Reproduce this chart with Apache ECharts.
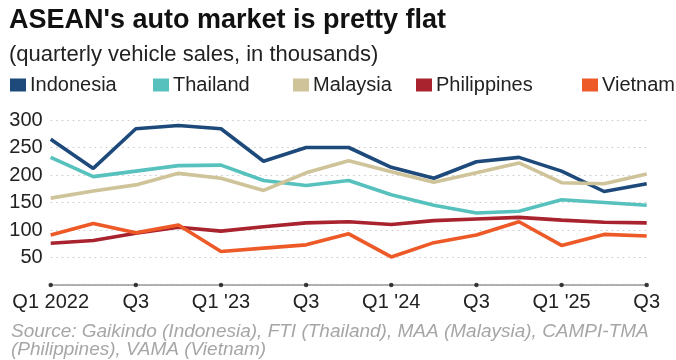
<!DOCTYPE html>
<html><head><meta charset="utf-8">
<script src="https://cdn.jsdelivr.net/npm/echarts@6/dist/echarts.min.js"></script>
<style>html,body{margin:0;padding:0;background:#fff}#c{width:676px;height:360px}</style>
</head><body><div id="c"></div>
<script>
var categories = ['Q1 2022','Q2 2022','Q3 2022','Q4 2022','Q1 2023','Q2 2023','Q3 2023','Q4 2023','Q1 2024','Q2 2024','Q3 2024','Q4 2024','Q1 2025','Q2 2025','Q3 2025'];
var tickLabels = {'Q1 2022':'Q1 2022','Q3 2022':'Q3','Q1 2023':"Q1 '23",'Q3 2023':'Q3','Q1 2024':"Q1 '24",'Q3 2024':'Q3','Q1 2025':"Q1 '25",'Q3 2025':'Q3'};
var indonesia   = [265,212,284,290,284,225,250,250,214,194,224,232,207,170,184];
var thailand    = [232,197,207,217,218,190,181,190,164,145,131,134,155,150,145];
var malaysia    = [158,171,182,203,194,172,204,226,206,187,204,222,186,184,202];
var philippines = [76,81,94,105,98,106,113,115,110,117,120,123,118,114,113];
var vietnam     = [91,112,95,109,61,67,73,93,51,77,91,115,72,92,89];
var names  = ['Indonesia','Thailand','Malaysia','Philippines','Vietnam'];
var colors = ['#1d4a7b','#56c1bd','#cfc399','#a8232e','#ee5a27'];
var values = [indonesia, thailand, malaysia, philippines, vietnam];
var legendLeft = [5,148,288,411,577];

var font = '"Liberation Sans", Arial, Helvetica, sans-serif';
var chart = echarts.init(document.getElementById('c'), null, {renderer:'canvas'});
var series = names.map(function(n,i){
  return {name:n, type:'line', data:values[i], symbol:'none', smooth:false,
    lineStyle:{color:colors[i], width:3.6}, itemStyle:{color:colors[i]}, z:2+i};
});
series.push({type:'scatter', data: categories.map(function(c,i){return i%2===0?[c,0]:null;}).filter(Boolean),
  symbol:'circle', symbolSize:4.5, itemStyle:{color:'#111'}, clip:false, z:10, silent:true});
var legends = names.map(function(n,i){
  return {data:[n], left:legendLeft[i], top:70, icon:'rect', itemWidth:16, itemHeight:13, itemGap:0,
    textStyle:{fontFamily:font, fontSize:20, color:'#222', padding:[0,0,0,-1]}, selectedMode:false};
});
chart.setOption({
  animation:false,
  title:[
    {text:"ASEAN's auto market is pretty flat", left:4, top:2, textStyle:{fontFamily:font, fontWeight:'bold', fontSize:27, color:'#111'}},
    {text:'(quarterly vehicle sales, in thousands)', left:4, top:39, textStyle:{fontFamily:font, fontWeight:'normal', fontSize:22, color:'#222'}},
    {text:'Source: Gaikindo (Indonesia), FTI (Thailand), MAA (Malaysia), CAMPI-TMA\n(Philippines), VAMA (Vietnam)', left:6, top:318,
      textStyle:{fontFamily:font, fontWeight:'normal', fontStyle:'italic', fontSize:19, lineHeight:18, color:'#a6a6a6'}}
  ],
  legend:legends,
  grid:{left:50.7, right:29.3, top:120, bottom:75, containLabel:false},
  xAxis:{type:'category', data:categories, boundaryGap:false,
    axisLine:{show:true, lineStyle:{color:'#999', width:1.5}},
    axisTick:{show:false},
    axisLabel:{interval:0, margin:7, fontFamily:font, fontSize:20, color:'#222',
      formatter:function(v){return tickLabels[v]||'';}},
    splitLine:{show:false}},
  yAxis:{type:'value', min:0, max:300, interval:50,
    axisLine:{show:false}, axisTick:{show:false},
    axisLabel:{margin:8, fontFamily:font, fontSize:20, color:'#222', formatter:function(v){return v===0?'':v;}},
    splitLine:{show:true, lineStyle:{color:'#c8c8c8', width:1.2, type:[1.5,4]}}},
  series:series
});
</script></body></html>
